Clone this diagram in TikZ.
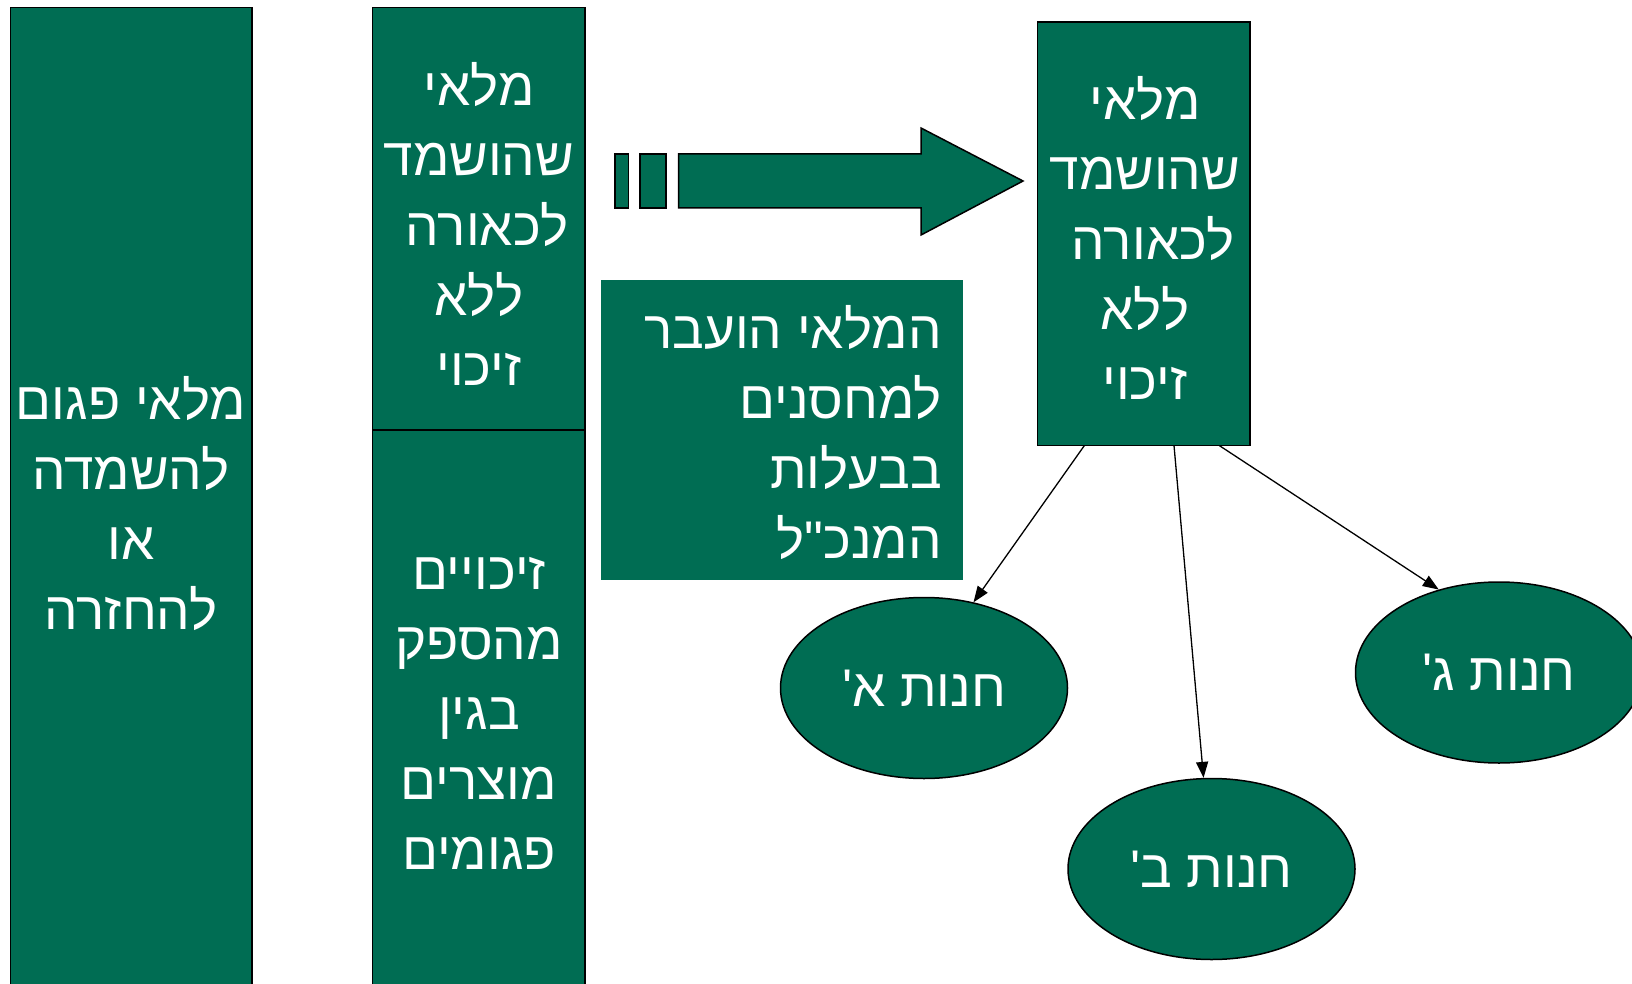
\documentclass[tikz,border=0pt]{standalone}
\usepackage{fontspec}
\setmainfont{Liberation Sans}
\newfontfamily\hebfont[Script=Hebrew]{Liberation Sans}
\TeXXeTstate=1
\usetikzlibrary{shapes.geometric,arrows.meta,calc}
\definecolor{grn}{HTML}{006D53}
\tikzset{
  box/.style={draw=black, fill=grn, line width=1.5pt, anchor=north west, inner sep=0pt, outer sep=0pt},
  plainbox/.style={fill=grn, anchor=north west, inner sep=0pt, outer sep=0pt},
  txt/.style={text=white, align=center, inner sep=0pt, font=\hebfont\fontsize{53}{70}\selectfont},
  rtxt/.style={text=white, align=right, inner sep=0pt, font=\hebfont\fontsize{53}{70}\selectfont},
  ell/.style={ellipse, draw=black, fill=grn, line width=1.5pt, minimum width=287pt, minimum height=181pt, inner sep=0pt, text=white, font=\hebfont\fontsize{53}{70}\selectfont},
  conn/.style={draw=black, line width=1.3pt, -{Triangle[length=16pt,width=12pt]}, shorten >=0pt},
  shapeline/.style={draw=black, fill=grn, line width=1.5pt}
}
\begin{document}
\begin{tikzpicture}[x=1pt,y=-1pt]
\useasboundingbox (0,0) rectangle (1632,984);
% left tall box
\node[box, minimum width=241.5pt, minimum height=990pt] (L) at (10.4,7.3) {};
\node[txt] (Lt) at (131,504) {\beginR מלאי פגום\endR\\ \beginR להשמדה\endR\\ \beginR או\endR\\ \beginR להחזרה\endR};
% middle upper box
\node[box, minimum width=212.4pt, minimum height=422.7pt] (MU) at (372.6,7.3) {};
\node[txt] (MUt) at (479,224) {\beginR מלאי\endR\\ \beginR שהושמד\endR\\ \hspace{0.3em}\beginR לכאורה\endR\\ \beginR ללא\endR\\ \beginR זיכוי\endR};
% middle lower box
\node[box, minimum width=212.4pt, minimum height=570pt] (ML) at (372.6,430) {};
\node[txt] (MLt) at (479,713) {\beginR זיכויים\endR\\ \beginR מהספק\endR\\ \beginR בגין\endR\\ \beginR מוצרים\endR\\ \beginR פגומים\endR};
% small bars and big arrow
\draw[shapeline] (615,154) rectangle (628.6,208);
\draw[shapeline] (640,154) rectangle (666,208);
\draw[shapeline] (678.6,154) -- (921,154) -- (921,128) -- (1023,181) -- (921,235) -- (921,208) -- (678.6,208) -- cycle;
% text box
\node[plainbox, minimum width=362pt, minimum height=300pt] (T) at (600.5,280) {};
\node[rtxt, anchor=east] (Tt) at (942,433) {\beginR המלאי הועבר\endR\\ \beginR למחסנים\endR\\ \beginR בבעלות\endR\\ \beginR המנכ"ל\endR};
% right box
\node[box, minimum width=212.3pt, minimum height=423.6pt] (R) at (1037.7,21.9) {};
\node[txt] (Rt) at (1145,238) {\beginR מלאי\endR\\ \beginR שהושמד\endR\\ \hspace{0.3em}\beginR לכאורה\endR\\ \beginR ללא\endR\\ \beginR זיכוי\endR};
% ellipses
\node[ell] (A) at (924,688) {\beginR חנות א'\endR};
\node[ell] (B) at (1211.5,869) {\beginR חנות ב'\endR};
\node[ell] (C) at (1499,672.5) {\beginR חנות ג'\endR};
% connectors
\draw[conn] ($(R.south west)!0.22!(R.south east)$) -- (A.60);
\draw[conn] ($(R.south west)!0.642!(R.south east)$) -- (B.95);
\draw[conn] ($(R.south west)!0.855!(R.south east)$) -- (C.126);
\end{tikzpicture}
\end{document}
